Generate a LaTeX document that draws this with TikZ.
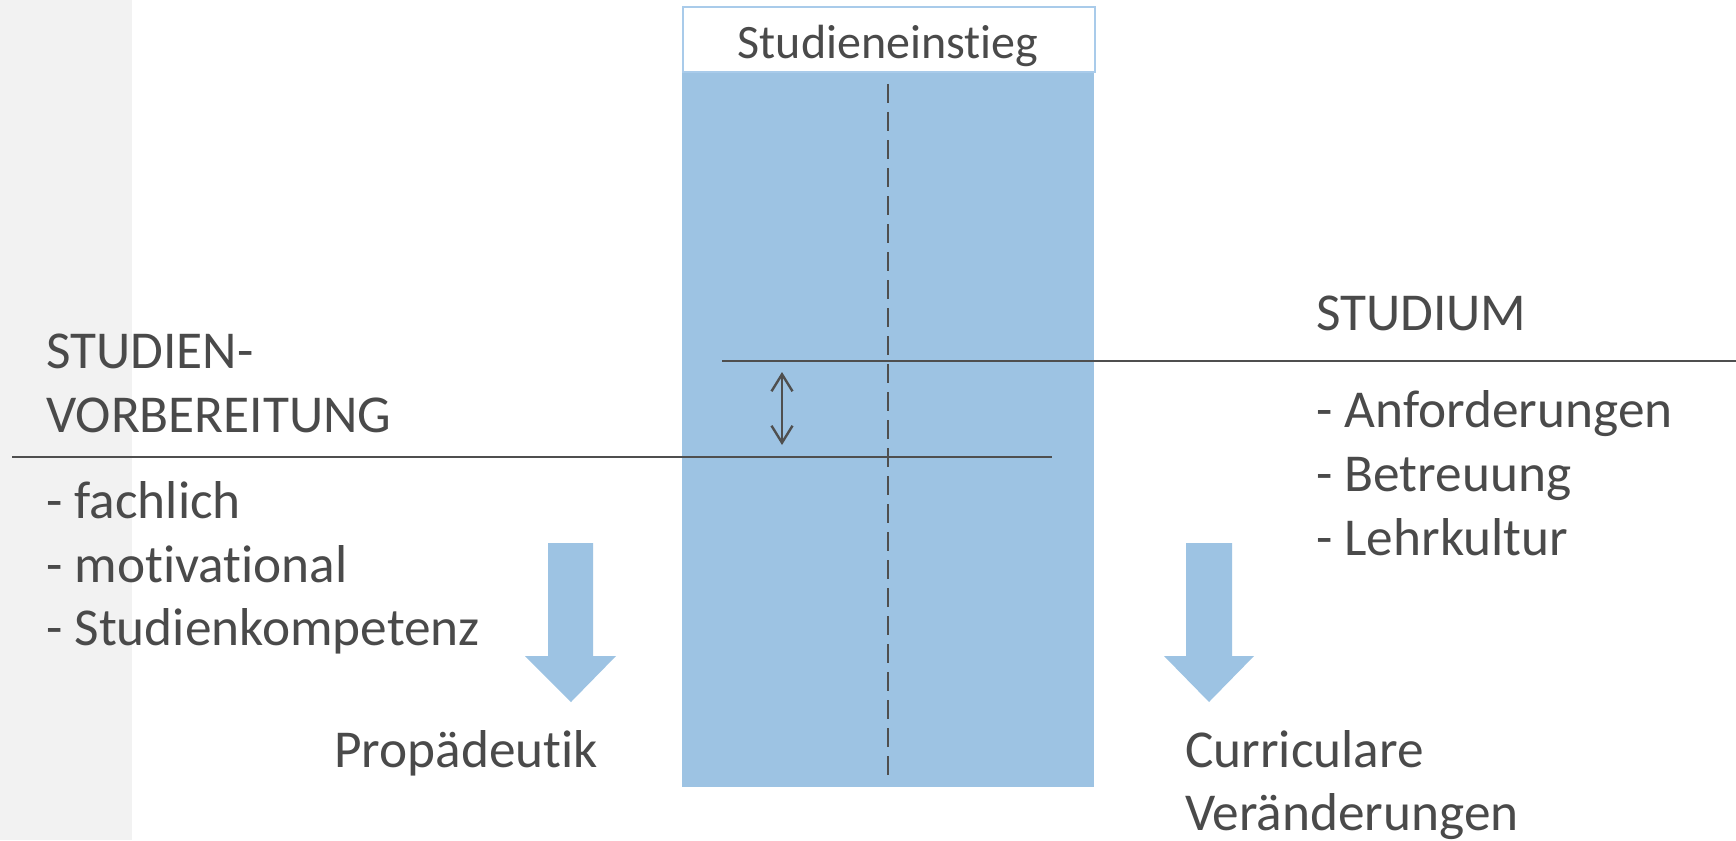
\documentclass[tikz,border=0pt]{standalone}
\usepackage{fontspec}
\setmainfont{Carlito}[Ligatures=NoCommon]
\usetikzlibrary{arrows.meta}
\definecolor{txtgray}{HTML}{4A4A4A}
\definecolor{linegray}{HTML}{4F4F4F}
\definecolor{boxblue}{HTML}{9DC3E3}
\definecolor{lightblue}{HTML}{A9CBEA}
\definecolor{bargray}{HTML}{F2F2F2}
\begin{document}
\begin{tikzpicture}[x=1pt,y=-1pt,
  lbl/.style={anchor=base west,inner sep=0pt,text=txtgray,font=\fontsize{53.3}{64}\selectfont},
  rule/.style={draw=linegray,line width=2.4pt},
  blockarrow/.style={fill=boxblue,draw=none}]
\useasboundingbox (0,0) rectangle (1736,840);
\fill[white] (0,0) rectangle (1736,840);
% left gray bar
\fill[bargray] (0,0) rectangle (132,840);
% central column
\fill[boxblue] (682,71) rectangle (1094,787);
\node[draw=lightblue,line width=2pt,fill=white,minimum width=412pt,minimum height=65pt,inner sep=0pt,anchor=north west] (einstieg) at (682,6) {};
\node[anchor=base,inner sep=0pt,text=txtgray,font=\fontsize{48}{58}\selectfont] (einstiegtxt) at (888,59) {Studieneinstieg};
% dashed line
\coordinate (dtop) at (888,84);
\coordinate (dbot) at (888,782);
\draw[draw=linegray,line width=2.5pt,dash pattern=on 19pt off 9pt] (dtop) -- (dbot);
% horizontal rules
\coordinate (r1a) at (722,361);
\coordinate (r1b) at (1736,361);
\coordinate (r2a) at (12,457);
\coordinate (r2b) at (1052,457);
\draw[rule] (r1a) -- (r1b);
\draw[rule] (r2a) -- (r2b);
% double arrow
\coordinate (da) at (782,372);
\coordinate (db) at (782,445);
\draw[draw=linegray,line width=2.4pt,{Straight Barb[length=17pt,width=21pt,line width=2.4pt]}-{Straight Barb[length=17pt,width=21pt,line width=2.4pt]}] (da) -- (db);
% block arrows
\path[blockarrow] (548,543) -- (593,543) -- (593,656) -- (616,656) -- (571,702) -- (525,656) -- (548,656) -- cycle;
\path[blockarrow] (1186,543) -- (1232,543) -- (1232,656) -- (1254,656) -- (1209,702) -- (1164,656) -- (1186,656) -- cycle;
% left texts
\node[lbl] (sv1) at (46,368) {STUDIEN-};
\node[lbl] (sv2) at (46,432) {VORBEREITUNG};
\node[lbl] (l1) at (46,518) {- fachlich};
\node[lbl] (l2) at (46,582) {- motivational};
\node[lbl] (l3) at (46,645) {- Studienkompetenz};
% right texts
\node[lbl] (st) at (1316,330) {STUDIUM};
\node[lbl] (r1) at (1316,427) {- Anforderungen};
\node[lbl] (r2) at (1316,491) {- Betreuung};
\node[lbl] (r3) at (1316,555) {- Lehrkultur};
% bottom texts
\node[lbl] (prop) at (334,767) {Propädeutik};
\node[lbl] (cur1) at (1185,767) {Curriculare};
\node[lbl] (cur2) at (1185,830) {Veränderungen};
\end{tikzpicture}
\end{document}
